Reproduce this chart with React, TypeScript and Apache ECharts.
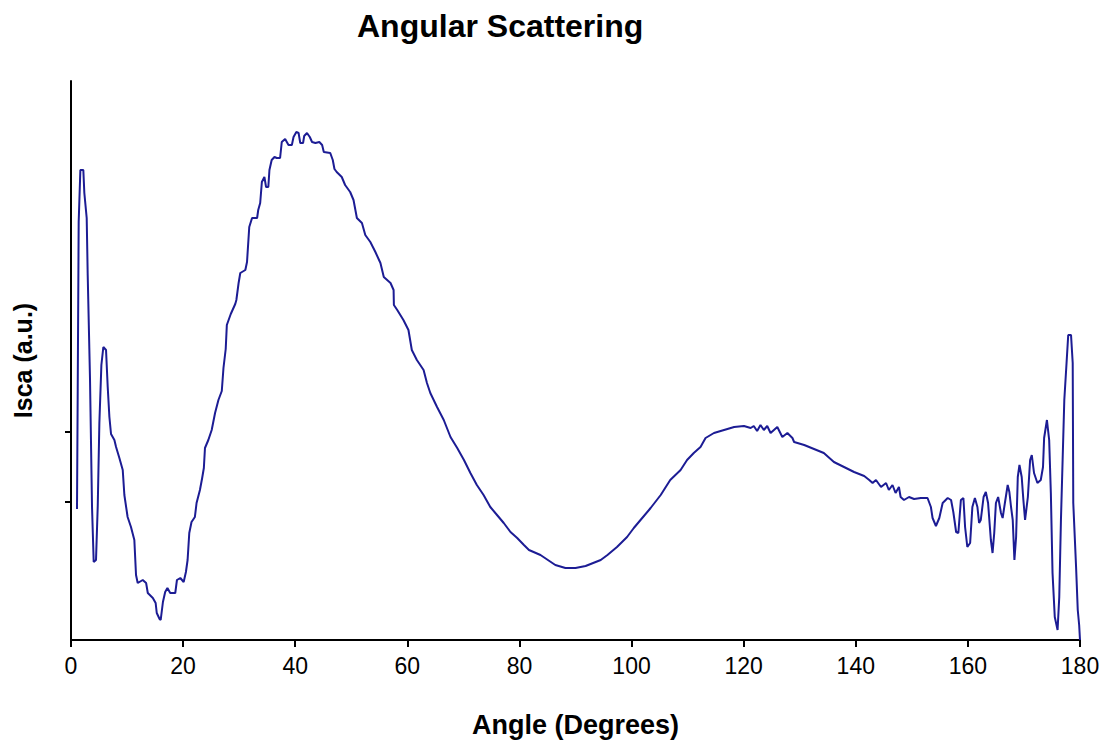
import React, { useEffect, useRef } from "react";
import * as echarts from "echarts";

const titleText = "Angular Scattering";
const xAxisTitle = "Angle (Degrees)";
const yAxisTitle = "Isca (a.u.)";

const xTicks = [0, 20, 40, 60, 80, 100, 120, 140, 160, 180];
const yTickValues = [13.8, 20.8];

const angles = [
  1.07, 1.2, 1.37, 1.67, 2.2, 2.38, 2.8, 2.98, 3.39, 3.75, 4.05, 4.46, 4.77, 5.06, 5.42, 5.77, 6.25, 6.55, 6.85, 7.14,
  7.74, 8.04, 8.63, 9.23, 9.52, 10.1, 10.7, 11.3, 11.6, 11.9, 12.8, 13.4, 13.7, 14.6, 15.1, 15.3, 15.8, 16.0, 16.4, 16.8,
  17.2, 17.7, 18.6, 18.9, 19.5, 20.1, 20.5, 20.8, 21.1, 21.5, 22.1, 22.4, 23.0, 23.4, 23.7, 23.9, 24.5, 25.1, 25.7, 26.3,
  26.9, 27.2, 27.6, 27.8, 28.5, 29.3, 29.5, 29.9, 30.2, 31.1, 31.4, 31.8, 32.3, 33.2, 33.4, 33.75, 34.05, 34.5, 34.8, 35.2,
  35.4, 35.8, 36.3, 36.7, 37.3, 37.6, 38.2, 38.8, 39.4, 39.7, 40.2, 40.6, 40.9, 41.4, 41.6, 42.1, 42.6, 43.0, 43.6, 44.3,
  44.8, 45.1, 46.25, 46.7, 47.0, 47.4, 48.3, 48.9, 49.8, 50.4, 51.0, 51.9, 52.5, 53.4, 54.3, 55.2, 55.8, 57.0, 57.55, 57.6,
  58.2, 59.3, 60.2, 60.8, 61.7, 62.9, 63.5, 64.1, 65.3, 66.5, 67.7, 68.9, 70.1, 71.25, 72.4, 73.6, 74.8, 76.0, 77.2, 78.4,
  79.6, 80.8, 81.7, 83.75, 86.4, 88.2, 90.0, 91.8, 93.6, 94.5, 95.7, 97.4, 99.2, 100.4, 101.6, 103.4, 105.2, 106.9, 108.75, 109.9,
  111.1, 112.3, 113.2, 114.7, 116.5, 118.3, 120.05, 121.25, 121.8, 122.4, 123.0, 123.6, 124.2, 124.8, 126.0, 126.9, 127.8, 128.7, 129.0, 130.8,
  132.55, 134.3, 136.1, 137.9, 139.7, 141.5, 142.4, 143.0, 143.6, 144.5, 145.4, 145.9, 146.55, 147.1, 147.7, 148.0, 148.6, 149.5, 150.4, 151.6,
  152.8, 153.4, 153.7, 154.3, 154.9, 155.5, 156.4, 157.0, 157.4, 157.9, 158.3, 158.75, 159.2, 159.5, 159.9, 160.4, 160.8, 161.25, 161.7, 162.0,
  162.3, 162.8, 163.2, 163.6, 164.1, 164.4, 164.7, 165.0, 165.4, 165.9, 166.2, 166.6, 167.1, 167.4, 167.7, 168.0, 168.3, 168.6, 168.9, 169.2,
  169.6, 169.9, 170.2, 170.7, 171.1, 171.4, 171.8, 172.4, 173.0, 173.4, 173.6, 174.1, 174.5, 174.8, 175.1, 175.5, 176.0, 176.3, 176.6, 176.9,
  177.2, 177.6, 177.9, 178.4, 178.7, 178.8, 179.3, 179.6, 179.85, 180.0,
];

const intensity = [
  13.1, 25.1, 41.8, 47.0, 47.0, 44.7, 42.2, 36.5, 26.1, 13.3, 7.8, 8.0, 13.4, 21.7, 27.5, 29.3, 29.0, 25.3, 22.3, 20.6,
  20.0, 19.3, 18.2, 17.0, 14.5, 12.3, 11.3, 10.0, 6.5, 5.7, 6.0, 5.7, 4.7, 4.2, 3.7, 2.7, 2.1, 2.0, 3.8, 4.8,
  5.2, 4.7, 4.7, 6.0, 6.2, 5.8, 6.8, 8.0, 10.7, 11.8, 12.3, 13.7, 15.0, 16.2, 17.2, 19.2, 20.0, 21.0, 22.7, 24.0,
  24.9, 27.2, 29.1, 31.5, 32.6, 33.6, 34.0, 35.7, 36.7, 37.0, 37.8, 41.3, 42.2, 42.2, 43.0, 43.7, 45.8, 46.3, 45.3, 45.3,
  47.0, 48.0, 48.3, 48.2, 48.2, 49.8, 50.1, 49.5, 49.5, 50.3, 50.8, 50.7, 49.7, 49.7, 50.4, 50.7, 50.3, 49.8, 49.7, 49.8,
  49.5, 48.8, 48.7, 48.0, 47.1, 46.8, 46.3, 45.5, 44.8, 44.0, 42.2, 41.7, 40.5, 39.8, 38.8, 37.7, 36.3, 35.7, 35.0, 33.5,
  33.0, 32.0, 31.0, 29.0, 28.0, 27.0, 25.7, 24.7, 23.3, 22.0, 20.3, 19.2, 18.0, 16.7, 15.5, 14.5, 13.3, 12.5, 11.7, 10.8,
  10.2, 9.5, 9.0, 8.5, 7.5, 7.2, 7.2, 7.4, 7.8, 8.0, 8.5, 9.3, 10.3, 11.2, 12.0, 13.2, 14.5, 16.0, 17.0, 18.0,
  18.7, 19.3, 20.2, 20.7, 21.0, 21.3, 21.4, 21.2, 21.4, 20.9, 21.5, 21.0, 21.4, 20.7, 21.3, 20.3, 20.7, 20.2, 19.8, 19.5,
  19.1, 18.7, 17.8, 17.3, 16.8, 16.4, 16.0, 15.7, 16.0, 15.3, 15.7, 15.0, 15.5, 14.7, 15.3, 14.3, 14.0, 14.3, 14.1, 14.2,
  14.2, 13.3, 12.2, 11.4, 12.2, 13.7, 14.2, 14.0, 12.8, 10.8, 10.7, 14.0, 14.2, 11.3, 9.3, 9.7, 13.3, 14.2, 13.3, 11.7,
  12.0, 14.3, 14.8, 13.7, 10.0, 8.7, 10.7, 13.7, 14.3, 12.7, 12.2, 13.7, 15.5, 14.8, 13.3, 12.0, 8.0, 10.3, 16.3, 17.5,
  16.3, 14.0, 12.0, 14.3, 18.0, 18.5, 16.7, 15.7, 16.0, 17.3, 20.2, 22.0, 20.0, 14.7, 6.7, 2.3, 1.0, 4.3, 12.0, 18.0,
  24.0, 27.7, 30.5, 30.5, 27.7, 13.7, 7.3, 3.0, 1.5, 0.0,
];

export default function App() {
  const ref = useRef<HTMLDivElement>(null);

  useEffect(() => {
    if (!ref.current) return;
    const chart = echarts.init(ref.current, undefined, { renderer: "svg" });
    const seriesData = angles.map((a, i) => [a, intensity[i]]);
    const font = "'Liberation Sans', Arial, sans-serif";
    chart.setOption({
      animation: false,
      backgroundColor: "#ffffff",
      title: {
        text: titleText,
        left: 352,
        top: 5,
        textStyle: { fontFamily: font, fontSize: 32, fontWeight: "bold", color: "#000" },
      },
      grid: { left: 71, right: 27, top: 81, bottom: 104, containLabel: false },
      xAxis: {
        type: "value",
        min: 0,
        max: 180,
        interval: 20,
        name: xAxisTitle,
        nameLocation: "middle",
        nameGap: 71,
        nameTextStyle: { fontFamily: font, fontSize: 27, fontWeight: "bold", color: "#000" },
        axisLine: { show: true, lineStyle: { color: "#000", width: 2 } },
        axisTick: { show: true, length: 7, lineStyle: { color: "#000", width: 2 } },
        axisLabel: {
          fontFamily: font,
          fontSize: 23,
          color: "#000",
          margin: 14,
          formatter: (v: number) => (xTicks.includes(v) ? String(v) : ""),
        },
        splitLine: { show: false },
      },
      yAxis: {
        type: "value",
        min: 0,
        max: 55.9,
        name: yAxisTitle,
        nameLocation: "middle",
        nameGap: 36,
        nameTextStyle: { fontFamily: font, fontSize: 25, fontWeight: "bold", color: "#000" },
        axisLine: { show: true, onZero: false, lineStyle: { color: "#000", width: 2 } },
        axisTick: { show: true, length: 6, customValues: yTickValues, lineStyle: { color: "#000", width: 2 } },
        axisLabel: { show: false },
        splitLine: { show: false },
      },
      series: [
        {
          type: "line",
          data: seriesData,
          showSymbol: false,
          symbol: "none",
          lineStyle: { color: "#1c1c94", width: 2 },
        },
      ],
    });
    return () => chart.dispose();
  }, []);

  return (
    <div
      ref={ref}
      style={{ position: "absolute", left: 0, top: 0, width: 1107, height: 744, background: "#fff" }}
    />
  );
}
